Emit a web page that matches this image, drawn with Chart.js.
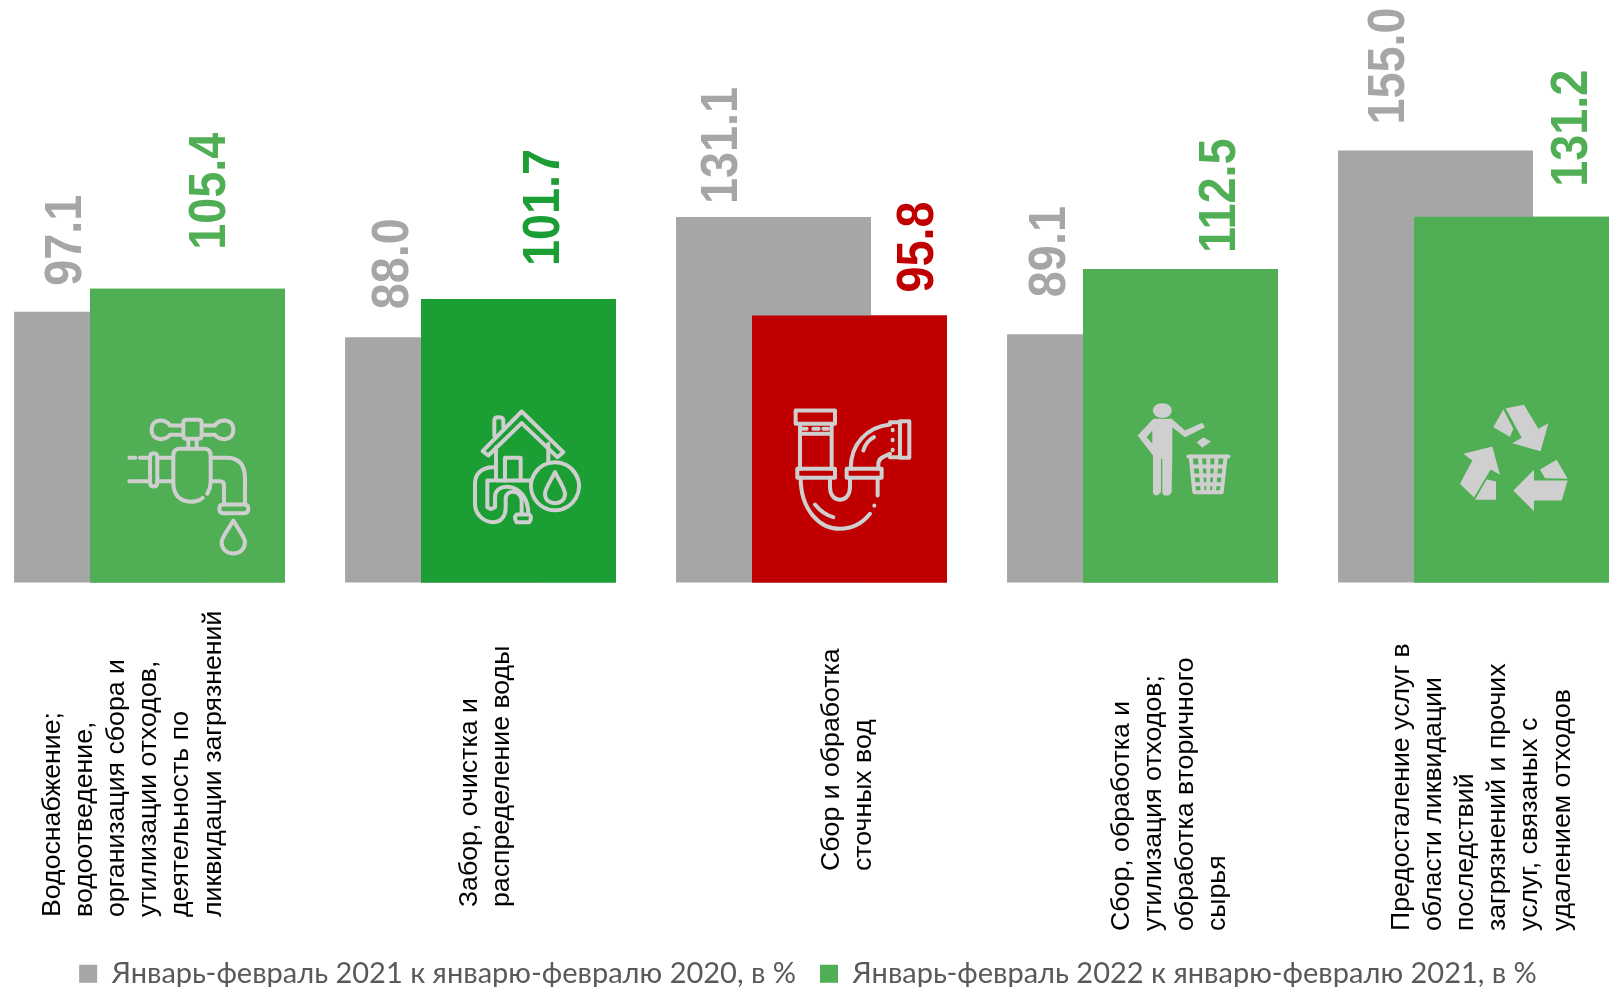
<!DOCTYPE html>
<html lang="ru">
<head>
<meta charset="utf-8">
<title>Chart</title>
<style>html,body{margin:0;padding:0;background:#fff;overflow:hidden}canvas{display:block}</style>
<script src="https://cdn.jsdelivr.net/npm/chart.js@4"></script>
</head>
<body>
<canvas id="c" width="1616" height="987"></canvas>
<script>
const categories = [
  ["Водоснабжение;","водоотведение,","организация сбора и","утилизации отходов,","деятельность по","ликвидации загрязнений"],
  ["Забор, очистка и","распределение воды"],
  ["Сбор и обработка","сточных вод"],
  ["Сбор, обработка и","утилизация отходов;","обработка вторичного","сырья"],
  ["Предосталение услуг в","области ликвидации","последствий","загрязнений и прочих","услуг, связаных с","удалением отходов"]
];
const seriesNames = ["Январь-февраль 2021 к январю-февралю 2020, в %","Январь-февраль 2022 к январю-февралю 2021, в %"];
const values2021 = [97.1, 88.0, 131.1, 89.1, 155.0];
const values2022 = [105.4, 101.7, 95.8, 112.5, 131.2];
const grayColor = "#A6A6A6";
const colors2022 = ["#50AE55","#1B9E33","#C00000","#50AE55","#50AE55"];

// hand-placed label nudges, as in the source slide
const grayNudge = [-44.4,-48.8,-50.8,-53.8,-45.8];
const grayGap = [26,28,13,37,26];
const greenNudge = [23,26,69,40,61];
const greenGap = [39,33,23,16,30];
const catShift = [-89.5,-3.5,27.5,-13.5,-64.5];
const catStartY = [917,907,871,931,931];
const catPitch = 32.1;

const icons = [
 {dx:-67.5,dy:-182,stroke:[
  "M150 75C140 55 95 50 95 88C95 125 140 120 150 103H190M150 75H190",
  "M285 75C295 55 340 50 340 88C340 125 295 120 285 103H245M285 75H245",
  "M200 58H235Q245 58 245 68V105Q245 115 235 115H200Q190 115 190 105V68Q190 58 200 58Z",
  "M205 115V145M230 115V145",
  "M248 292C230 310 160 315 160 245V165Q160 145 180 145H252Q272 145 272 165V245Q272 262 262 280",
  "M160 172H112M160 242H112M28 242H90M60 172H90M28 172H46",
  "M101 158Q112 158 112 170V246Q112 258 101 258Q90 258 90 246V170Q90 158 101 158Z",
  "M272 172H320Q375 172 375 235V312M272 242H300Q312 242 312 255V312",
  "M310 312H373Q385 312 385 325Q385 338 373 338H310Q298 338 298 325Q298 312 310 312Z",
  "M340 360C320 395 305 410 305 425C305 445 320 459 340 459C360 459 375 445 375 425C375 410 360 395 340 360Z"]},
 {dx:-58.5,dy:-182,stroke:[
  "M185 33L310 155L292 170L185 68L85 165L68 152Z",
  "M103 105V60Q103 50 115 50Q130 50 130 60V80",
  "M108 140V240H210M265 130V185",
  "M135 240V172H182V240",
  "M285 185A72 72 0 1 0 285.1 185Z",
  "M285 215C270 245 255 265 255 280C255 300 270 308 285 308C300 308 315 300 315 280C315 265 300 245 285 215Z",
  "M100 200C60 200 45 225 45 250V310C45 345 75 365 100 365C125 365 137 345 137 320V295C137 265 185 265 185 305V340",
  "M100 240H82V320Q92 330 105 320V290C105 240 205 245 205 340",
  "M170 342H208Q218 350 208 365H170Q160 350 170 342Z"]},
 {dx:-69.5,dy:-182,stroke:[
  "M47 30H165V70H47Z","M60 70V205M155 70V205M60 100H155",
  "M68 85H80M100 85H116M130 85H144",
  "M52 205H165V232H52Z",
  "M62 232C62 330 120 385 180 385C220 385 250 365 270 340",
  "M293 232V285M283 315V316",
  "M150 232V260C150 310 210 310 210 260V232",
  "M200 205H305V232H200Z",
  "M212 205C212 130 260 80 330 72M295 205V190C295 170 320 165 330 160",
  "M360 62H388V172H360ZM330 65H360M330 170H360",
  "M338 88V89M338 118V119M338 148V149",
  "M250 150C255 130 270 115 282 110","M105 312C120 330 140 345 160 350"]},
 {dx:-55.5,dy:-187,fill:[
  "M112 23C130 23 140 33 140 45C140 57 130 67 112 67C94 67 84 57 84 45C84 33 94 23 112 23Z",
  "M85 70H140L180 105L232 82L240 95L180 125L142 95V180L140 290Q135 300 125 300Q112 300 112 290V190H108V290Q100 300 92 300Q82 295 84 285V180L38 120ZM65 125L82 145V105Z",
  "M235 125L258 138L232 157L215 140Z"],
  stroke:["M190 183H310","M197 183L208 290H290L302 183","M225 185L233 290M250 185V290M275 185L267 290","M201 213H298M204 240H295M206 266H292"]},
 {dx:-61.5,dy:-187,fill:[
  "M167 38L222 28L265 100L295 83L272 167L187 143L215 127Z","M160 42L190 100L180 124L130 95Z",
  "M40 175L127 153L150 238L122 222L72 306L30 265L67 195Z","M110 252L138 258V313H75Z",
  "M190 285L252 223V255L353 255L335 315H252V347Z","M270 222L320 193L353 250L285 248Z"]}
];

function drawIcon(ctx, el, icon){
  ctx.save();
  ctx.translate(el.x + icon.dx, el.base + icon.dy);
  ctx.scale(1/3,1/3);
  ctx.fillStyle = "#CFCFCF"; ctx.strokeStyle = "#CFCFCF";
  ctx.lineWidth = 12; ctx.lineCap = "round"; ctx.lineJoin = "round";
  (icon.fill||[]).forEach(p => ctx.fill(new Path2D(p),"evenodd"));
  (icon.stroke||[]).forEach(p => ctx.stroke(new Path2D(p)));
  ctx.restore();
}
function valueLabel(ctx, text, x, y, color){
  ctx.save();
  ctx.translate(x,y); ctx.rotate(-Math.PI/2); ctx.scale(0.9,1);
  ctx.font = "bold 52px 'Liberation Sans'";
  ctx.fillStyle = color; ctx.textAlign = "left"; ctx.textBaseline = "middle";
  ctx.fillText(text,0,0);
  ctx.restore();
}
const overlay = {
  id:"overlay",
  afterDatasetsDraw(chart){
    const ctx = chart.ctx;
    const gray = chart.getDatasetMeta(0), green = chart.getDatasetMeta(1);
    green.controller.draw();           // right-hand bar sits over the grey one
    green.data.forEach((el,i)=>drawIcon(ctx,el,icons[i]));
    gray.data.forEach((el,i)=>valueLabel(ctx,values2021[i].toFixed(1),el.x+grayNudge[i],el.y-grayGap[i],grayColor));
    green.data.forEach((el,i)=>valueLabel(ctx,values2022[i].toFixed(1),el.x+greenNudge[i],el.y-greenGap[i],colors2022[i]));
    const xs = chart.scales.x;
    categories.forEach((lines,i)=>{
      const base = xs.getPixelForValue(i)+catShift[i];
      lines.forEach((line,j)=>{
        ctx.save();
        ctx.translate(base+j*catPitch,catStartY[i]); ctx.rotate(-Math.PI/2);
        ctx.font = "26.7px 'Liberation Sans'"; ctx.fillStyle="#000";
        ctx.textAlign="left"; ctx.textBaseline="alphabetic";
        ctx.fillText(line,0,0);
        ctx.restore();
      });
    });
  }
};
const hiddenAxis = {ticks:{display:false},grid:{display:false},border:{display:false},min:0,max:209};
new Chart(document.getElementById("c"),{
  type:"bar",
  data:{labels:categories,datasets:[
    {label:seriesNames[0],data:values2021,backgroundColor:grayColor,clip:false,categoryPercentage:0.459,barPercentage:2.566},
    {label:seriesNames[1],data:values2022,backgroundColor:c=>colors2022[c.dataIndex]??colors2022[0],clip:false,categoryPercentage:0.459,barPercentage:2.566}
  ]},
  options:{
    responsive:false,animation:false,
    layout:{padding:{left:0,right:0,top:0,bottom:-11.2}},
    scales:{
      x:{offset:false,grid:{display:false},border:{display:false},ticks:{display:false},
         afterFit(s){s.height=352.7;}},
      y:{...hiddenAxis,position:"left",afterFit(s){s.width=149.5;}},
      yRight:{...hiddenAxis,position:"right",afterFit(s){s.width=142.5;}}
    },
    plugins:{
      tooltip:{enabled:false},
      legend:{position:"bottom",labels:{boxWidth:18,boxHeight:18,padding:24,color:"#595959",
        font:{family:"Lato",size:29}}}
    }
  },
  plugins:[overlay]
});
</script>
</body>
</html>
